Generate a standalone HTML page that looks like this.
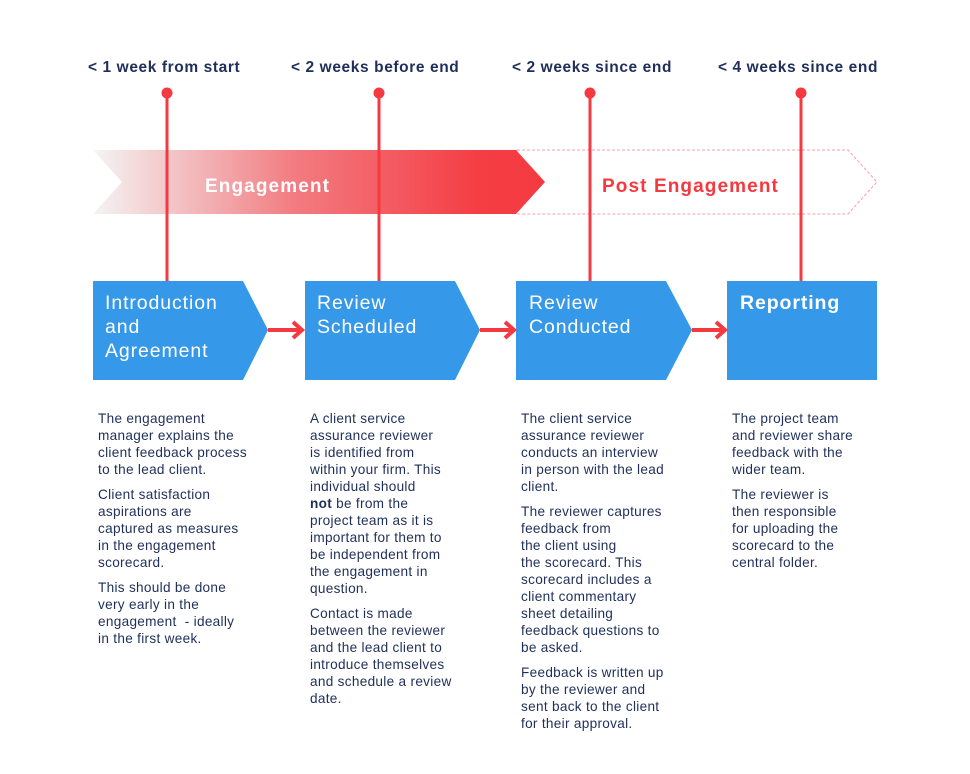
<!DOCTYPE html>
<html><head><meta charset="utf-8"><style>
body{margin:0;background:#fff;width:970px;height:774px;position:relative;overflow:hidden;font-family:"Liberation Sans",sans-serif}
.h{position:absolute;top:59px;font-size:15.5px;font-weight:bold;color:#1f2f5a;white-space:nowrap;letter-spacing:0.6px}
.t{position:absolute;top:410px;font-size:13.6px;line-height:17px;color:#1f2f5a;white-space:nowrap;letter-spacing:0.3px}
.t p{margin:0 0 8px 0}
.b{position:absolute;color:#fff;font-size:19.5px;line-height:24px;top:291px;letter-spacing:0.9px}
</style></head><body>
<svg width="970" height="774" style="position:absolute;left:0;top:0">
<defs><linearGradient id="g" x1="93" x2="545" gradientUnits="userSpaceOnUse">
<stop offset="0" stop-color="#f4f4f4"/><stop offset="0.45" stop-color="#f27b80"/><stop offset="0.85" stop-color="#f43e44"/><stop offset="1" stop-color="#f43a40"/></linearGradient></defs>
<polygon points="517,150 848,150 877,182 848,214 517,214" fill="none" stroke="#f5a0a3" stroke-width="1" stroke-dasharray="3,2"/>
<polygon points="93,150 516,150 545,182 516,214 93,214 122,182" fill="url(#g)"/>
<g stroke="#f43a40" stroke-width="3">
<line x1="167" y1="93" x2="167" y2="281"/><line x1="379" y1="93" x2="379" y2="281"/>
<line x1="590" y1="93" x2="590" y2="281"/><line x1="801" y1="93" x2="801" y2="281"/>
</g>
<g fill="#f43a40"><circle cx="167" cy="93" r="5.5"/><circle cx="379" cy="93" r="5.5"/><circle cx="590" cy="93" r="5.5"/><circle cx="801" cy="93" r="5.5"/></g>
<g fill="#3598e8">
<polygon points="93,281 243,281 268,330 243,380 93,380"/>
<polygon points="305,281 455,281 480,330 455,380 305,380"/>
<polygon points="516,281 666,281 692,330 666,380 516,380"/>
<rect x="727" y="281" width="150" height="99"/>
</g>
<g stroke="#f43a40" stroke-width="4" fill="none">
<line x1="268" y1="330" x2="300" y2="330"/><polyline points="293,322 302,330 293,338"/>
<line x1="480" y1="330" x2="512" y2="330"/><polyline points="505,322 514,330 505,338"/>
<line x1="692" y1="330" x2="723" y2="330"/><polyline points="716,322 725,330 716,338"/>
</g>
<text x="205" y="192" fill="#fff" font-size="19" font-weight="bold" letter-spacing="1.1" font-family="Liberation Sans,sans-serif">Engagement</text>
<text x="602" y="192" fill="#f43a40" font-size="19" font-weight="bold" letter-spacing="1.1" font-family="Liberation Sans,sans-serif">Post Engagement</text>
</svg>
<div class="h" style="left:88px">&lt; 1 week from start</div>
<div class="h" style="left:291px">&lt; 2 weeks before end</div>
<div class="h" style="left:512px">&lt; 2 weeks since end</div>
<div class="h" style="left:718px">&lt; 4 weeks since end</div>
<div class="b" style="left:105px">Introduction<br>and<br>Agreement</div>
<div class="b" style="left:317px">Review<br>Scheduled</div>
<div class="b" style="left:529px">Review<br>Conducted</div>
<div class="b" style="left:740px;font-weight:bold">Reporting</div>
<div class="t" style="left:98px"><p>The engagement<br>manager explains the<br>client feedback process<br>to the lead client.</p><p>Client satisfaction<br>aspirations are<br>captured as measures<br>in the engagement<br>scorecard.</p><p>This should be done<br>very early in the<br>engagement &nbsp;- ideally<br>in the first week.</p></div>
<div class="t" style="left:310px"><p>A client service<br>assurance reviewer<br>is identified from<br>within your firm. This<br>individual should<br><b>not</b> be from the<br>project team as it is<br>important for them to<br>be independent from<br>the engagement in<br>question.</p><p>Contact is made<br>between the reviewer<br>and the lead client to<br>introduce themselves<br>and schedule a review<br>date.</p></div>
<div class="t" style="left:521px"><p>The client service<br>assurance reviewer<br>conducts an interview<br>in person with the lead<br>client.</p><p>The reviewer captures<br>feedback from<br>the client using<br>the scorecard. This<br>scorecard includes a<br>client commentary<br>sheet detailing<br>feedback questions to<br>be asked.</p><p>Feedback is written up<br>by the reviewer and<br>sent back to the client<br>for their approval.</p></div>
<div class="t" style="left:732px"><p>The project team<br>and reviewer share<br>feedback with the<br>wider team.</p><p>The reviewer is<br>then responsible<br>for uploading the<br>scorecard to the<br>central folder.</p></div>
</body></html>
